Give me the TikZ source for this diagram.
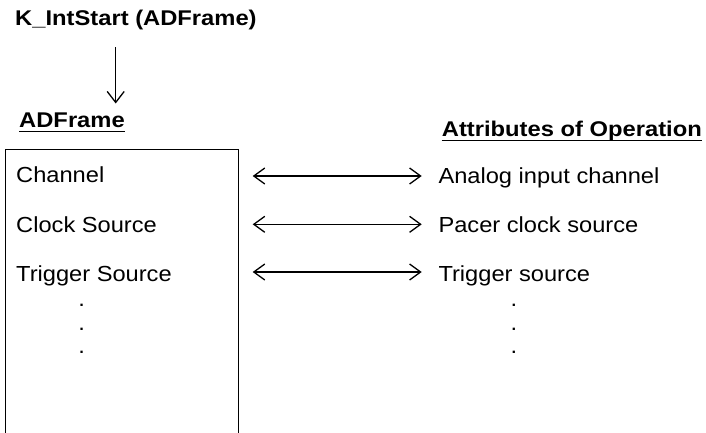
\documentclass[tikz,border=0pt]{standalone}
\usepackage{fontspec}
\setmainfont{Liberation Sans}[FakeStretch=1.085]
\newfontfamily\headfont{Liberation Sans}[FakeStretch=1.115,UprightFont=*-Bold]
\usetikzlibrary{arrows.meta}
\begin{document}
\begin{tikzpicture}[x=1pt,y=-1pt,
  txt/.style={anchor=base west,inner sep=0pt,font=\fontsize{21.8}{24}\selectfont},
  head/.style={anchor=base west,inner sep=0pt,font=\fontsize{21.3}{24}\headfont},
  dotmark/.style={anchor=base,inner sep=0pt,font=\fontsize{21.8}{24}\selectfont},
  link/.style={line width=1.3pt,{Straight Barb[length=11pt,width=16pt,line width=1.3pt]}-{Straight Barb[length=11pt,width=16pt,line width=1.3pt]}},
  down/.style={line width=1.3pt,-{Straight Barb[length=11pt,width=17pt,line width=1.3pt]}},
  uline/.style={line width=1.4pt}]
\useasboundingbox (0,0) rectangle (706,432);
\clip (0,0) rectangle (706,432);

% call and the frame it receives
\node[head] (call) at (15,25.3) {K\_IntStart (ADFrame)};
\coordinate (callout) at (115.7,47);
\coordinate (framein) at (115.7,103.5);
\draw[down] (callout) -- (framein);

\node[head] (frame) at (19,127.7) {ADFrame};
\draw[uline] ([yshift=-4]frame.base west) -- ([yshift=-4]frame.base east);
\node[head] (attr) at (441.7,136) {Attributes of Operation};
\draw[uline] ([yshift=-4.5]attr.base west) -- ([yshift=-4.5]attr.base east);

% frame box, open at the bottom edge
\draw[line width=1pt] (5,445) -- (5,149) -- (238,149) -- (238,445);

% frame fields
\node[txt] (chan) at (16,182.5) {Channel};
\node[txt] (clk) at (16,232) {Clock Source};
\node[txt] (trg) at (16,281.7) {Trigger Source};
\node[dotmark] (ld1) at (81.7,306.7) {.};
\node[dotmark] (ld2) at (81.7,330.7) {.};
\node[dotmark] (ld3) at (81.7,353.3) {.};

% operation attributes
\node[txt] (ain) at (438.3,183) {Analog input channel};
\node[txt] (pcs) at (438.3,232) {Pacer clock source};
\node[txt] (tsr) at (438.3,281.7) {Trigger source};
\node[dotmark] (rd1) at (514,306.7) {.};
\node[dotmark] (rd2) at (514,330.7) {.};
\node[dotmark] (rd3) at (514,353.3) {.};

% correspondences
\coordinate (a1) at (252.7,176);   \coordinate (b1) at (421.7,176);
\coordinate (a2) at (252.7,224.3); \coordinate (b2) at (421.7,224.3);
\coordinate (a3) at (252.7,272);   \coordinate (b3) at (421.7,272);
\draw[link] (a1) -- (b1);
\draw[link] (a2) -- (b2);
\draw[link] (a3) -- (b3);
\end{tikzpicture}
\end{document}
